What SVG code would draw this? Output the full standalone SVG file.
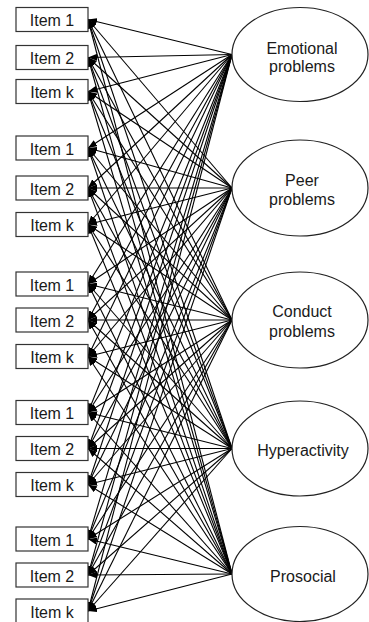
<svg xmlns="http://www.w3.org/2000/svg" width="369" height="622" viewBox="0 0 369 622">
<style>
.box{fill:#fff;stroke:#333;stroke-width:1.2}
.ell{fill:#fff;stroke:#222;stroke-width:1.2}
.t{font-family:"Liberation Sans",Arial,sans-serif;font-size:16px;fill:#1a1a1a;text-anchor:middle}
.c line{stroke:#000;stroke-width:1.1;marker-end:url(#ah)}
</style>
<defs>
<marker id="ah" markerUnits="userSpaceOnUse" markerWidth="9" markerHeight="7" refX="9" refY="3.5" orient="auto">
<path d="M0,0 L9,3.5 L0,7 z" fill="#000"/>
</marker>
</defs>
<rect width="369" height="622" fill="#fff"/>
<g id="connectors" class="c">
<line x1="232" y1="54.5" x2="88" y2="19.5"/><line x1="232" y1="54.5" x2="88" y2="57.5"/><line x1="232" y1="54.5" x2="88" y2="91.5"/>
<line x1="232" y1="54.5" x2="88" y2="148"/><line x1="232" y1="54.5" x2="88" y2="188"/><line x1="232" y1="54.5" x2="88" y2="224.5"/>
<line x1="232" y1="54.5" x2="88" y2="284"/><line x1="232" y1="54.5" x2="88" y2="320"/><line x1="232" y1="54.5" x2="88" y2="356.5"/>
<line x1="232" y1="54.5" x2="88" y2="412.5"/><line x1="232" y1="54.5" x2="88" y2="448.5"/><line x1="232" y1="54.5" x2="88" y2="484.5"/>
<line x1="232" y1="54.5" x2="88" y2="539"/><line x1="232" y1="54.5" x2="88" y2="575"/><line x1="232" y1="54.5" x2="88" y2="611"/>
<line x1="232" y1="188" x2="88" y2="19.5"/><line x1="232" y1="188" x2="88" y2="57.5"/><line x1="232" y1="188" x2="88" y2="91.5"/>
<line x1="232" y1="188" x2="88" y2="148"/><line x1="232" y1="188" x2="88" y2="188"/><line x1="232" y1="188" x2="88" y2="224.5"/>
<line x1="232" y1="188" x2="88" y2="284"/><line x1="232" y1="188" x2="88" y2="320"/><line x1="232" y1="188" x2="88" y2="356.5"/>
<line x1="232" y1="188" x2="88" y2="412.5"/><line x1="232" y1="188" x2="88" y2="448.5"/><line x1="232" y1="188" x2="88" y2="484.5"/>
<line x1="232" y1="188" x2="88" y2="539"/><line x1="232" y1="188" x2="88" y2="575"/><line x1="232" y1="188" x2="88" y2="611"/>
<line x1="232" y1="320" x2="88" y2="19.5"/><line x1="232" y1="320" x2="88" y2="57.5"/><line x1="232" y1="320" x2="88" y2="91.5"/>
<line x1="232" y1="320" x2="88" y2="148"/><line x1="232" y1="320" x2="88" y2="188"/><line x1="232" y1="320" x2="88" y2="224.5"/>
<line x1="232" y1="320" x2="88" y2="284"/><line x1="232" y1="320" x2="88" y2="320"/><line x1="232" y1="320" x2="88" y2="356.5"/>
<line x1="232" y1="320" x2="88" y2="412.5"/><line x1="232" y1="320" x2="88" y2="448.5"/><line x1="232" y1="320" x2="88" y2="484.5"/>
<line x1="232" y1="320" x2="88" y2="539"/><line x1="232" y1="320" x2="88" y2="575"/><line x1="232" y1="320" x2="88" y2="611"/>
<line x1="232" y1="448.5" x2="88" y2="19.5"/><line x1="232" y1="448.5" x2="88" y2="57.5"/><line x1="232" y1="448.5" x2="88" y2="91.5"/>
<line x1="232" y1="448.5" x2="88" y2="148"/><line x1="232" y1="448.5" x2="88" y2="188"/><line x1="232" y1="448.5" x2="88" y2="224.5"/>
<line x1="232" y1="448.5" x2="88" y2="284"/><line x1="232" y1="448.5" x2="88" y2="320"/><line x1="232" y1="448.5" x2="88" y2="356.5"/>
<line x1="232" y1="448.5" x2="88" y2="412.5"/><line x1="232" y1="448.5" x2="88" y2="448.5"/><line x1="232" y1="448.5" x2="88" y2="484.5"/>
<line x1="232" y1="448.5" x2="88" y2="539"/><line x1="232" y1="448.5" x2="88" y2="575"/><line x1="232" y1="448.5" x2="88" y2="611"/>
<line x1="232" y1="574" x2="88" y2="19.5"/><line x1="232" y1="574" x2="88" y2="57.5"/><line x1="232" y1="574" x2="88" y2="91.5"/>
<line x1="232" y1="574" x2="88" y2="148"/><line x1="232" y1="574" x2="88" y2="188"/><line x1="232" y1="574" x2="88" y2="224.5"/>
<line x1="232" y1="574" x2="88" y2="284"/><line x1="232" y1="574" x2="88" y2="320"/><line x1="232" y1="574" x2="88" y2="356.5"/>
<line x1="232" y1="574" x2="88" y2="412.5"/><line x1="232" y1="574" x2="88" y2="448.5"/><line x1="232" y1="574" x2="88" y2="484.5"/>
<line x1="232" y1="574" x2="88" y2="539"/><line x1="232" y1="574" x2="88" y2="575"/><line x1="232" y1="574" x2="88" y2="611"/>
</g>
<g id="g1-item1"><rect class="box" x="16" y="7.5" width="72" height="24"/><text class="t" x="52" y="26">Item 1</text></g>
<g id="g1-item2"><rect class="box" x="16" y="45.5" width="72" height="24"/><text class="t" x="52" y="64">Item 2</text></g>
<g id="g1-itemk"><rect class="box" x="16" y="79.5" width="72" height="24"/><text class="t" x="52" y="98">Item k</text></g>
<g id="g2-item1"><rect class="box" x="16" y="136" width="72" height="24"/><text class="t" x="52" y="154.5">Item 1</text></g>
<g id="g2-item2"><rect class="box" x="16" y="176" width="72" height="24"/><text class="t" x="52" y="194.5">Item 2</text></g>
<g id="g2-itemk"><rect class="box" x="16" y="212.5" width="72" height="24"/><text class="t" x="52" y="231">Item k</text></g>
<g id="g3-item1"><rect class="box" x="16" y="272" width="72" height="24"/><text class="t" x="52" y="290.5">Item 1</text></g>
<g id="g3-item2"><rect class="box" x="16" y="308" width="72" height="24"/><text class="t" x="52" y="326.5">Item 2</text></g>
<g id="g3-itemk"><rect class="box" x="16" y="344.5" width="72" height="24"/><text class="t" x="52" y="363">Item k</text></g>
<g id="g4-item1"><rect class="box" x="16" y="400.5" width="72" height="24"/><text class="t" x="52" y="419">Item 1</text></g>
<g id="g4-item2"><rect class="box" x="16" y="436.5" width="72" height="24"/><text class="t" x="52" y="455">Item 2</text></g>
<g id="g4-itemk"><rect class="box" x="16" y="472.5" width="72" height="24"/><text class="t" x="52" y="491">Item k</text></g>
<g id="g5-item1"><rect class="box" x="16" y="527" width="72" height="24"/><text class="t" x="52" y="545.5">Item 1</text></g>
<g id="g5-item2"><rect class="box" x="16" y="563" width="72" height="24"/><text class="t" x="52" y="581.5">Item 2</text></g>
<g id="g5-itemk"><rect class="box" x="16" y="599" width="72" height="24"/><text class="t" x="52" y="617.5">Item k</text></g>
<g id="emotional"><ellipse class="ell" cx="300" cy="54.5" rx="68" ry="47"/><text class="t" x="302" y="53.5">Emotional</text><text class="t" x="302" y="72">problems</text></g>
<g id="peer"><ellipse class="ell" cx="300" cy="188" rx="68" ry="48"/><text class="t" x="302" y="186">Peer</text><text class="t" x="302" y="205">problems</text></g>
<g id="conduct"><ellipse class="ell" cx="300" cy="320" rx="68" ry="48"/><text class="t" x="302" y="317">Conduct</text><text class="t" x="302" y="336.5">problems</text></g>
<g id="hyperactivity"><ellipse class="ell" cx="300" cy="448.5" rx="68" ry="47.5"/><text class="t" x="303" y="456">Hyperactivity</text></g>
<g id="prosocial"><ellipse class="ell" cx="300" cy="574" rx="68" ry="47.5"/><text class="t" x="303" y="581.5">Prosocial</text></g>
</svg>
